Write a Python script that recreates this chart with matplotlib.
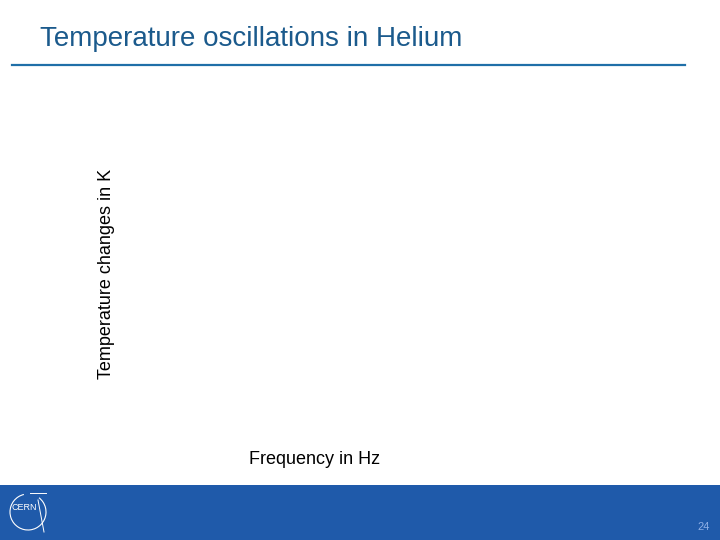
import matplotlib.pyplot as plt
from matplotlib.patches import Rectangle, Arc
from matplotlib.lines import Line2D

plt.rcParams['font.family'] = ['Liberation Sans', 'DejaVu Sans']

# textos do slide
titulo = "Temperature oscillations in Helium"
xlabel = "Frequency in Hz"
ylabel = "Temperature changes in K"
pagina = "24"

# sem dados: o gráfico original está vazio
freq = []
temp = []

fig = plt.figure(figsize=(7.2, 5.4), dpi=100)

# 1) Cabeçalho
fig.text(40 / 720, 1 - 39 / 540, titulo, fontsize=20, color="#1b5a8c",
         ha="left", va="center")
fig.add_artist(Line2D([12 / 720, 685 / 720], [1 - 65 / 540] * 2,
                      color="#1f6fa8", lw=1.6, transform=fig.transFigure))

# 2) Faixa azul do rodapé
fig.add_artist(Rectangle((0, 0), 1, 55 / 540, transform=fig.transFigure,
                         facecolor="#1f5aaa", edgecolor="none"))
fig.text(704 / 720, 1 - 527 / 540, pagina, fontsize=8, color="#8fb0e6",
         ha="center", va="center")

# logo CERN simplificado
fig.add_artist(Arc((28 / 720, 1 - 512 / 540), 36 / 720, 36 / 540,
                   theta1=100, theta2=420, color="white", lw=0.8,
                   transform=fig.transFigure))
fig.text(24 / 720, 1 - 508 / 540, "CERN", fontsize=6.5, color="white",
         ha="center", va="center")
fig.add_artist(Line2D([30 / 720, 46 / 720], [1 - 493 / 540, 1 - 493 / 540],
                      color="white", lw=0.7, transform=fig.transFigure))
fig.add_artist(Line2D([38 / 720, 44 / 720], [1 - 500 / 540, 1 - 532 / 540],
                      color="white", lw=0.7, transform=fig.transFigure))

# 3) Eixos (vazios)
ax = fig.add_axes([0.16, 0.2, 0.8, 0.65])
ax.plot(freq, temp)
for s in ax.spines.values():
    s.set_visible(False)
ax.set_xticks([])
ax.set_yticks([])
ax.set_xlabel(xlabel, fontsize=13, color="black")
ax.set_ylabel(ylabel, fontsize=13, color="black")
ax.xaxis.set_label_coords((314 - 115) / 576, (540 - 451 - 108) / 351)
ax.yaxis.set_label_coords((115 - 115) / 576, (540 - 274 - 108) / 351)

fig.savefig("out.png", dpi=100)
